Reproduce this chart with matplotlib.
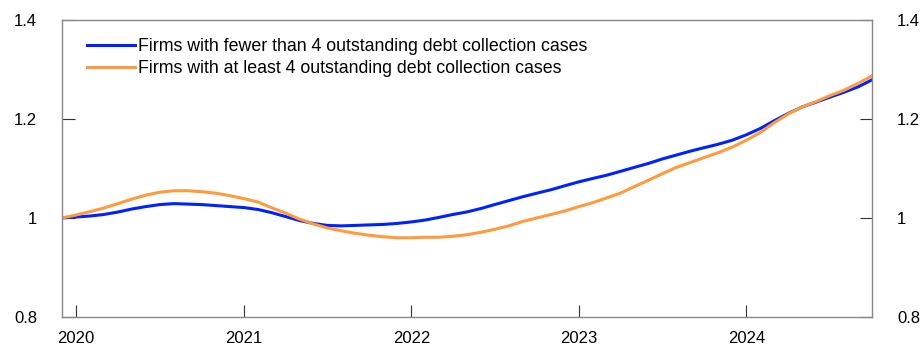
import numpy as np
import pandas as pd
import matplotlib
matplotlib.use("Agg")
import matplotlib.pyplot as plt
import matplotlib.dates as mdates
from matplotlib.ticker import FuncFormatter

plt.rcParams['font.family'] = ['Liberation Sans', 'DejaVu Sans']

# monthly index, Dec 2019 - Oct 2024
months = pd.date_range("2019-12-01", "2024-10-01", freq="MS")

fewer_than_4 = [
    1.000,
    1.002, 1.004, 1.007, 1.012, 1.018, 1.023, 1.027, 1.029, 1.028, 1.027, 1.025, 1.023,
    1.021, 1.017, 1.011, 1.003, 0.995, 0.989, 0.985, 0.984, 0.985, 0.986, 0.987, 0.989,
    0.992, 0.996, 1.001, 1.007, 1.012, 1.019, 1.027, 1.035, 1.043, 1.050, 1.057, 1.065,
    1.073, 1.080, 1.086, 1.094, 1.102, 1.110, 1.119, 1.127, 1.135, 1.142, 1.149, 1.157,
    1.168, 1.181, 1.196, 1.211, 1.224, 1.234, 1.244, 1.254, 1.265, 1.279,
]
at_least_4 = [
    1.000,
    1.006, 1.013, 1.020, 1.029, 1.038, 1.046, 1.052, 1.055, 1.055, 1.053, 1.050, 1.045,
    1.039, 1.032, 1.021, 1.010, 0.998, 0.988, 0.980, 0.974, 0.969, 0.965, 0.962, 0.960,
    0.960, 0.961, 0.961, 0.963, 0.966, 0.971, 0.977, 0.984, 0.993, 1.000, 1.007, 1.014,
    1.023, 1.031, 1.040, 1.050, 1.063, 1.076, 1.089, 1.102, 1.112, 1.122, 1.132, 1.143,
    1.157, 1.173, 1.192, 1.210, 1.224, 1.235, 1.247, 1.258, 1.272, 1.287,
]
labels = ["Firms with fewer than 4 outstanding debt collection cases",
          "Firms with at least 4 outstanding debt collection cases"]
yticks = [0.8, 1.0, 1.2, 1.4]

fig = plt.figure(figsize=(9.22, 3.47), dpi=100)
ax = fig.add_axes([0.0672, 0.0865, 0.8786, 0.856])

ax.plot(months, fewer_than_4, color='#0022ff', lw=2.2, label=labels[0])
ax.plot(months, at_least_4, color='#ff9a3d', lw=2.2, label=labels[1])

ax.set_xlim(months[0], months[-1])
ax.set_ylim(0.8, 1.4)
ax.set_yticks(yticks)
ax.yaxis.set_major_formatter(FuncFormatter(lambda v, p: '%g' % v))
ax.xaxis.set_major_locator(mdates.YearLocator())
ax.xaxis.set_major_formatter(mdates.DateFormatter('%Y'))

ax.tick_params(axis='x', direction='in', length=9, width=0.8, color='#333333',
               labelsize=12, pad=10)
ax.tick_params(axis='y', direction='in', length=9, width=0.8, color='#333333',
               labelsize=12, pad=18, left=True, right=True,
               labelleft=True, labelright=True)
for s in ax.spines.values():
    s.set_color('#888888')
    s.set_linewidth(1.0)

ax.legend(loc='upper left', bbox_to_anchor=(0.022, 0.963), frameon=False,
          fontsize=12.8, handlelength=2.7, handletextpad=0.15, labelspacing=0.3,
          borderaxespad=0.0)

fig.savefig('out.png', dpi=100)
